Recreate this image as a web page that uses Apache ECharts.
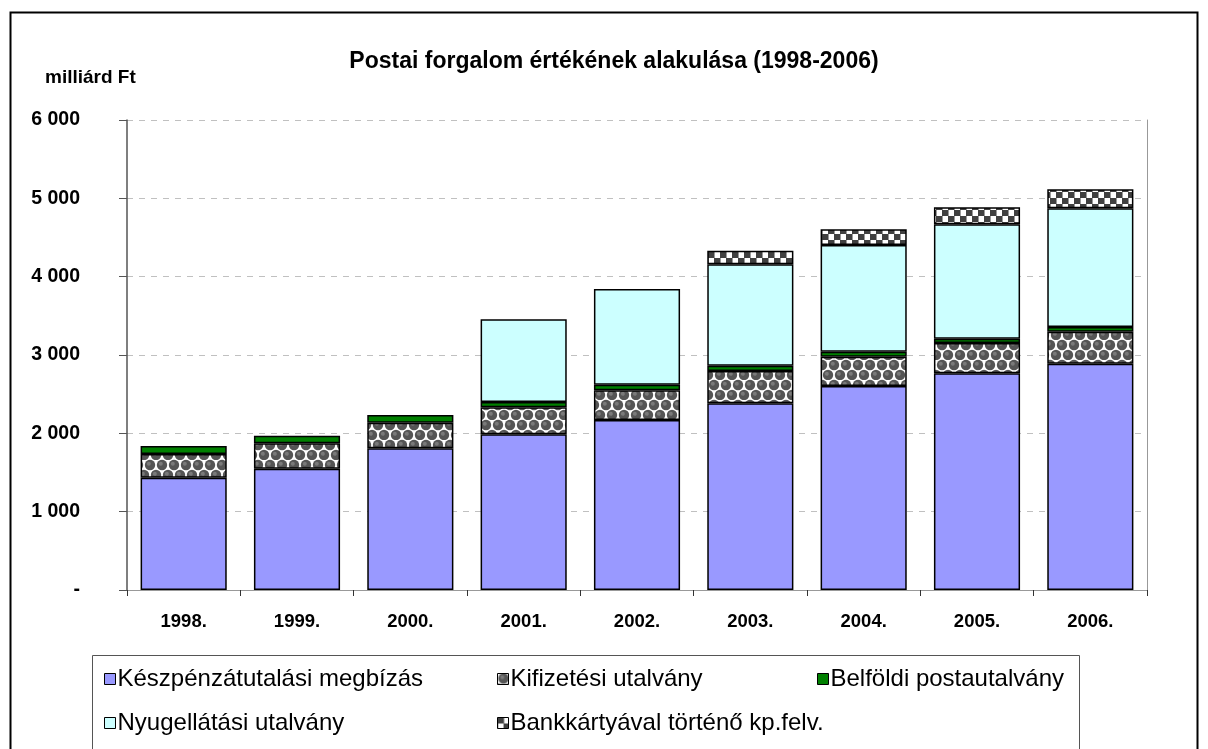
<!DOCTYPE html>
<html>
<head>
<meta charset="utf-8">
<style>
html,body{margin:0;padding:0;background:#fff;}
#c{width:1208px;height:749px;}
</style>
<script src="https://cdn.jsdelivr.net/npm/echarts@6/dist/echarts.min.js"></script>
</head>
<body>
<div id="c"></div>
<script>
const years = ['1998.','1999.','2000.','2001.','2002.','2003.','2004.','2005.','2006.'];
const keszpenz = [1434,1549,1809,1988,2170,2383,2604,2766,2889];
const kifizetesi = [302,324,327,344,379,413,375,387,409];
const belfoldi = [102,97,98,68,72,68,64,55,59];
const nyugellatas = [null,null,null,1056,1220,1294,1361,1460,1516];
const bankkartya = [null,null,null,null,null,174,201,218,242];
const seriesNames = ['Készpénzátutalási megbízás','Kifizetési utalvány','Belföldi postautalvány','Nyugellátási utalvány','Bankkártyával történő kp.felv.'];
const yTicks = [0,1000,2000,3000,4000,5000,6000];

function spherePattern(){
  const c=document.createElement('canvas'); c.width=12; c.height=20;
  const g=c.getContext('2d');
  g.fillStyle='#ffffff'; g.fillRect(0,0,12,20);
  const pts=[[6,5],[0,15],[12,15],[6,25],[6,-5]];
  pts.forEach(p=>{
    g.fillStyle='#555555';
    g.beginPath(); g.arc(p[0],p[1],5.2,0,Math.PI*2); g.fill();
    g.fillStyle='#7a7a7a';
    g.beginPath(); g.arc(p[0]-1.2,p[1]-1.2,2,0,Math.PI*2); g.fill();
  });
  return {image:c,repeat:'repeat'};
}
function checkerPattern(){
  const c=document.createElement('canvas'); c.width=12; c.height=12;
  const g=c.getContext('2d');
  g.fillStyle='#ffffff'; g.fillRect(0,0,12,12);
  g.fillStyle='#404040';
  g.fillRect(0,0,6,6); g.fillRect(6,6,6,6);
  g.fillStyle='#9a9a9a';
  g.fillRect(6,0,1,6); g.fillRect(0,6,1,6);
  return {image:c,repeat:'repeat'};
}

const colors = ['#9999FF', spherePattern(), '#008000', '#CCFFFF', checkerPattern()];
const dataSets = [keszpenz,kifizetesi,belfoldi,nyugellatas,bankkartya];

const chart = echarts.init(document.getElementById('c'),null,{renderer:'canvas'});
const FONT = 'Liberation Sans, Arial, sans-serif';

function fmt(v){ if(v===0) return '-'; return String(v).replace(/\B(?=(\d{3})+(?!\d))/g,' '); }

const legendPos = [[104,667],[497,667],[817,667],[104,711],[497,711]];

chart.setOption({
  animation:false,
  backgroundColor:'#ffffff',
  title:{
    text:'Postai forgalom értékének alakulása (1998-2006)',
    left:609, top:45, textAlign:'center',
    textStyle:{fontFamily:FONT,fontSize:23,fontWeight:'bold',color:'#000'}
  },
  graphic:[
    {type:'rect',shape:{x:10.5,y:12.5,width:1187,height:760},style:{fill:null,stroke:'#000',lineWidth:2},silent:true,z:-1},
    {type:'rect',shape:{x:92.5,y:655.5,width:987,height:120},style:{fill:null,stroke:'#555',lineWidth:1},silent:true},
    {type:'text',left:45,top:68,style:{text:'milliárd Ft',font:'bold 19px '+FONT,fill:'#000'}}
  ],
  legend: seriesNames.map((n,i)=>({
    data:[n], left:legendPos[i][0], top:legendPos[i][1], padding:0,
    icon:'rect', itemWidth:11, itemHeight:11, itemGap:0,
    itemStyle:{borderColor:'#000',borderWidth:1},
    textStyle:{fontFamily:FONT,fontSize:24,color:'#000',padding:[0,0,0,-3]},
    selectedMode:false
  })),
  grid:{left:127,right:61,top:120,bottom:159,containLabel:false},
  xAxis:[{
    type:'category', data:years,
    axisLine:{lineStyle:{color:'#222',width:1}},
    axisTick:{show:true,length:6,lineStyle:{color:'#333'}},
    axisLabel:{fontFamily:FONT,fontSize:18.5,fontWeight:'bold',color:'#000',margin:22}
  },{
    type:'category', data:years, position:'top',
    axisLine:{show:true,lineStyle:{color:'#999',width:1}},
    axisTick:{show:false}, axisLabel:{show:false}
  }],
  yAxis:[{
    type:'value', min:0, max:6000, interval:1000,
    axisLine:{show:true,lineStyle:{color:'#555',width:1.5}},
    axisTick:{show:true,length:8,lineStyle:{color:'#555'}},
    axisLabel:{fontFamily:FONT,fontSize:19.5,fontWeight:'bold',color:'#000',margin:47,align:'right',
      formatter:function(v){return fmt(v);}},
    splitLine:{show:true,lineStyle:{color:'#c0c0c0',type:[6,6],width:1}}
  },{
    type:'value', min:0, max:6000, interval:1000, position:'right',
    axisLine:{show:true,lineStyle:{color:'#999',width:1}},
    axisTick:{show:false}, axisLabel:{show:false}, splitLine:{show:false}
  }],
  series: seriesNames.map((n,i)=>({
    name:n, type:'bar', stack:'total', data:dataSets[i],
    barCategoryGap:'24%',
    itemStyle:{color:colors[i],borderColor:'#000',borderWidth:1.5}
  }))
});
</script>
</body>
</html>
